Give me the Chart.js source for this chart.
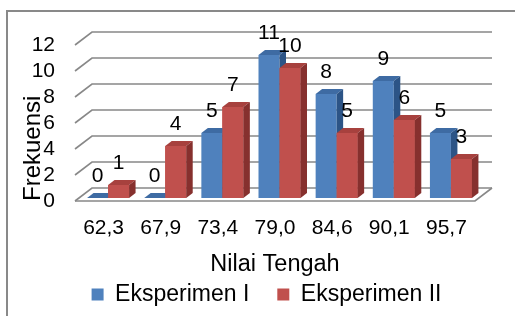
<!DOCTYPE html>
<html>
<head>
<meta charset="utf-8">
<script src="https://cdn.jsdelivr.net/npm/chart.js@4/dist/chart.umd.min.js"></script>
<style>
  html, body { margin: 0; padding: 0; background: #fff; }
</style>
</head>
<body>
<canvas id="freqChart" width="515" height="316"></canvas>
<script>
const categories = ['62,3', '67,9', '73,4', '79,0', '84,6', '90,1', '95,7'];
const eksperimen1 = [0, 0, 5, 11, 8, 9, 5];
const eksperimen2 = [1, 4, 7, 10, 5, 6, 3];
const seriesNames = ['Eksperimen I', 'Eksperimen II'];
const yTicks = [0, 2, 4, 6, 8, 10, 12];

const FONT = '"Liberation Sans", Arial, sans-serif';

// fake 3d: depth of the floor/back wall, offset of the bars, depth of one bar
const DX = 17, DY = -13;
const SHIFT_X = 4.5, SHIFT_Y = -3;
const BX = 6.5, BY = -5;
const LEGEND_SHIFT = 29;

const faces = [
  { front: '#4F81BD', top: '#3E6BA3', side: '#2C5486' },
  { front: '#C0504D', top: '#A7413E', side: '#86302E' }
];

function poly(ctx, color, pts) {
  ctx.fillStyle = color;
  ctx.beginPath();
  ctx.moveTo(pts[0][0], pts[0][1]);
  for (let i = 1; i < pts.length; i++) ctx.lineTo(pts[i][0], pts[i][1]);
  ctx.closePath();
  ctx.fill();
}

const box3d = {
  id: 'box3d',
  afterLayout(chart) {
    // legend sits a bit right of the canvas centre in the original
    chart.legend.left += LEGEND_SHIFT;
    chart.legend.right += LEGEND_SHIFT;
  },
  beforeDraw(chart) {
    const ctx = chart.ctx;
    ctx.save();
    ctx.fillStyle = '#fff';
    ctx.fillRect(0, 0, chart.width, chart.height);
    ctx.strokeStyle = '#898989';
    ctx.lineWidth = 2;
    ctx.strokeRect(7, 11, chart.width + 20, chart.height + 20);
    ctx.restore();
  },
  beforeDatasetsDraw(chart) {
    const { ctx, chartArea: a, scales: { y } } = chart;
    ctx.save();
    ctx.strokeStyle = '#888';
    ctx.lineWidth = 1.6;
    yTicks.forEach(v => {
      const py = y.getPixelForValue(v);
      ctx.beginPath();
      ctx.moveTo(a.left, py);
      ctx.lineTo(a.left + DX, py + DY);
      ctx.lineTo(a.right + DX, py + DY);
      ctx.stroke();
    });
    // floor front and right edge
    const p0 = y.getPixelForValue(0);
    ctx.beginPath();
    ctx.moveTo(a.left, p0);
    ctx.lineTo(a.right, p0);
    ctx.lineTo(a.right + DX, p0 + DY);
    ctx.stroke();
    ctx.restore();

    ctx.save();
    ctx.translate(SHIFT_X, SHIFT_Y);
  },
  afterDatasetsDraw(chart) {
    const ctx = chart.ctx;
    const metas = chart.data.datasets.map((d, i) => chart.getDatasetMeta(i));
    for (let j = 0; j < categories.length; j++) {
      metas.forEach((m, i) => {
        const b = m.data[j].getProps(['x', 'y', 'base', 'width'], true);
        const l = b.x - b.width / 2, r = b.x + b.width / 2;
        const f = faces[i];
        if (i > 0) {
          ctx.fillStyle = f.front;
          ctx.fillRect(l, b.y, r - l, b.base - b.y);
        }
        poly(ctx, f.top, [[l, b.y], [r, b.y], [r + BX, b.y + BY], [l + BX, b.y + BY]]);
        poly(ctx, f.side, [[r, b.y], [r + BX, b.y + BY], [r + BX, b.base + BY], [r, b.base]]);
      });
    }
    ctx.restore();

    // value labels
    ctx.save();
    ctx.fillStyle = '#000';
    ctx.font = '21px ' + FONT;
    ctx.textAlign = 'center';
    ctx.textBaseline = 'middle';
    metas.forEach((m, i) => {
      m.data.forEach((el, j) => {
        const b = el.getProps(['x', 'y'], true);
        ctx.fillText(String(chart.data.datasets[i].data[j]), b.x + SHIFT_X, b.y + SHIFT_Y - 22);
      });
    });
    ctx.restore();
  }
};

new Chart(document.getElementById('freqChart'), {
  type: 'bar',
  data: {
    labels: categories,
    datasets: [
      { label: seriesNames[0], data: eksperimen1, backgroundColor: faces[0].front },
      { label: seriesNames[1], data: eksperimen2, backgroundColor: faces[1].front }
    ]
  },
  options: {
    responsive: false,
    animation: false,
    events: [],
    categoryPercentage: 0.735,
    barPercentage: 1,
    layout: { padding: { left: 0, right: 40, top: 45, bottom: 0 } },
    plugins: {
      tooltip: { enabled: false },
      legend: {
        position: 'bottom',
        labels: {
          boxWidth: 12,
          boxHeight: 12,
          padding: 28,
          color: '#000',
          font: { family: FONT, size: 23 }
        }
      }
    },
    scales: {
      x: {
        grid: { display: false, drawTicks: false },
        border: { display: false },
        ticks: { color: '#000', padding: 15, autoSkip: false, font: { family: FONT, size: 21 } },
        title: {
          display: true,
          text: 'Nilai Tengah',
          color: '#000',
          padding: { top: 0, bottom: -24 },
          font: { family: FONT, size: 23.5 }
        },
        afterFit(s) { s.height = 54; }
      },
      y: {
        min: 0,
        max: 12,
        grid: { display: false, drawTicks: false },
        border: { display: false },
        ticks: { stepSize: 2, autoSkip: false, color: '#000', padding: 20, font: { family: FONT, size: 21 } },
        title: {
          display: true,
          text: 'Frekuensi',
          align: 'start',
          color: '#000',
          padding: { top: 19, bottom: 0 },
          font: { family: FONT, size: 24 }
        },
        afterFit(s) { s.width = 75; }
      }
    }
  },
  plugins: [box3d]
});
</script>
</body>
</html>
